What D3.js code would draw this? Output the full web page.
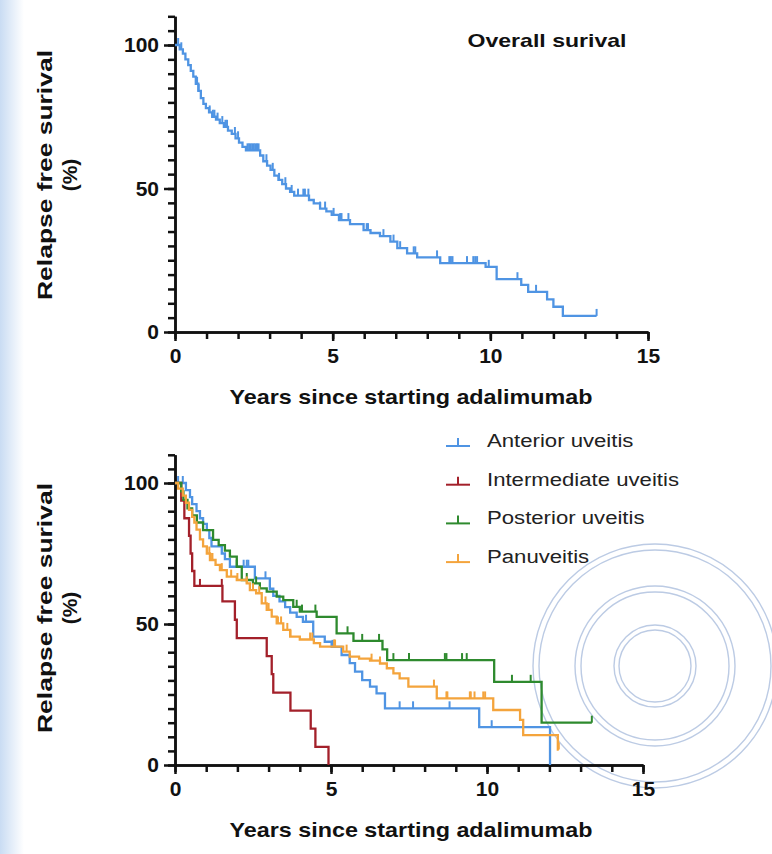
<!DOCTYPE html>
<html>
<head>
<meta charset="utf-8">
<title>Relapse free survival</title>
<script src="https://cdn.jsdelivr.net/npm/d3@7/dist/d3.min.js"></script>
<style>
	body{ margin:0; background:#fff; }
	svg{ display:block; }
	.axis path, .axis line{ stroke:#111; stroke-width:2.5px; }
	.axis text{ font-family:"Liberation Sans", Arial, sans-serif; font-weight:bold; font-size:21px; fill:#111; }
	.title{ font-family:"Liberation Sans", Arial, sans-serif; font-weight:bold; fill:#111; }
	.legend text{ font-family:"Liberation Sans", Arial, sans-serif; font-size:18px; fill:#222; }
</style>
</head>
<body>
<script>
	const width = 772, height = 854;

	// ticks
	const yMajor = [0, 50, 100];
	const yMinor = d3.range(0, 111, 5);
	const xMajor = [0, 5, 10, 15];
	const xMinor = d3.range(0, 16, 1);

	// overall survival: [years, survival % after the drop]
	const overallSteps = [[0.15,98.5],[0.25,97],[0.33,95],[0.42,93],[0.5,91],[0.58,89],[0.66,86.5],[0.74,84],
		[0.82,81.5],[0.9,79.5],[0.98,78],[1.08,76.5],[1.18,75],[1.3,74],[1.42,72.8],[1.55,71.5],[1.68,70.2],
		[1.8,69],[1.92,67.5],[2.03,66],[2.14,64.5],[2.25,63.3],[2.7,61.5],[2.8,59.5],[2.92,58],[3.03,56.5],
		[3.15,54.5],[3.28,53],[3.4,51.5],[3.52,50],[3.65,48.8],[3.78,47.5],[4.25,46],[4.4,44.8],[4.6,43],
		[4.8,42],[4.97,40.8],[5.2,39],[5.55,37.6],[5.98,35.5],[6.2,34.5],[6.5,33.4],[6.83,31.5],[7.05,29.2],
		[7.36,27.4],[7.68,26],[8.41,24],[9.85,22.7],[10.2,18.4],[10.98,16.4],[11.2,14],[11.8,11.4],[12.0,8.8],[12.3,5.6]];
	const overallEnd = 13.37;
	const overallCensor = [0.1,0.2,0.7,0.75,1.1,1.2,1.25,1.35,1.5,1.6,1.65,1.9,2.0,2.3,2.35,2.4,2.45,2.5,2.55,
		2.6,2.65,2.9,3.1,3.3,3.5,3.7,3.9,4.07,4.12,4.23,4.6,4.76,5.03,5.24,5.28,5.5,6.08,6.12,6.61,6.93,7.14,
		7.57,7.62,8.31,8.7,8.75,8.8,9.26,9.46,9.52,9.58,9.95,10.86,11.45,13.37];

	// subgroups
	const groupNames = ["Anterior uveitis", "Intermediate uveitis", "Posterior uveitis", "Panuveitis"];
	const groupColors = ["#4f94e3", "#a3202a", "#2e8a2e", "#f4a43c"];

	const anteriorSteps = [[0.35,97.5],[0.48,95],[0.55,92.5],[0.69,90],[0.8,87.5],[0.9,85.5],[1.02,83.3],[1.1,80.5],
		[1.17,77.5],[1.5,75],[1.6,73],[1.76,70.3],[2.56,66.2],[3.04,62.5],[3.15,60],[3.35,58],[3.53,56],[3.69,54],
		[3.9,52.5],[4.1,50.8],[4.43,45.5],[4.8,43.7],[5.02,41.9],[5.34,39],[5.6,36.1],[5.77,33.1],[6.0,30.1],
		[6.25,27.8],[6.46,25.4],[6.73,20.1],[9.75,13.4],[12.02,0]];
	const anteriorEnd = 12.02;
	const anteriorCensor = [0.1,0.25,2.2,2.3,2.35,2.9,4.2,5.05,5.1,7.2,7.63,8.8,10.15];

	const intermediateSteps = [[0.2,93.8],[0.3,87.5],[0.45,81.3],[0.5,75],[0.55,68.8],[0.62,63.5],[1.52,58],
		[1.92,51.5],[1.98,45],[2.94,38.6],[3.1,32.2],[3.15,25.7],[3.7,19.3],[4.35,12.9],[4.5,6.4],[4.92,0]];
	const intermediateEnd = 4.92;
	const intermediateCensor = [0.8, 1.5];

	const posteriorSteps = [[0.2,97],[0.27,94],[0.4,91],[0.55,88.5],[0.7,86],[0.9,83.3],[1.22,79.8],[1.4,78],
		[1.6,76],[1.76,73.9],[1.98,70.3],[2.14,65.6],[2.5,64.4],[2.72,62.6],[2.94,61.5],[3.26,59.7],[3.47,58.5],
		[3.79,56.1],[4.0,54.4],[4.54,52.5],[5.18,46.7],[5.72,44],[6.65,41],[6.8,37.2],[10.23,29.5],[11.75,15]];
	const posteriorEnd = 13.36;
	const posteriorCensor = [1.98,2.3,2.6,3.9,4.07,4.5,5.53,6.0,6.54,7.0,7.5,8.65,8.7,9.2,9.35,10.8,11.4,13.36];

	const panSteps = [[0.1,98],[0.25,95.5],[0.35,93],[0.45,90.5],[0.55,88],[0.62,86],[0.69,83.5],[0.8,80],
		[0.9,77.5],[1.02,75],[1.12,72.7],[1.3,71],[1.44,69.1],[1.66,66.8],[1.98,65.6],[2.3,64.4],[2.4,62],
		[2.6,60.9],[2.78,57.3],[2.94,55],[3.1,52.6],[3.26,50.2],[3.47,47.9],[3.69,45.5],[4.0,44.5],[4.45,43.2],
		[4.65,42],[5.39,40.2],[5.6,38.4],[5.9,37.7],[6.25,37],[6.57,36],[6.79,34.3],[7.0,32.5],[7.2,30.7],
		[7.48,27.8],[8.39,23.6],[10.2,19.5],[11.06,16],[11.16,10.6],[12.27,5.5]];
	const panEnd = 12.3;
	const panCensor = [1.1,1.15,1.2,1.5,1.8,2.0,2.3,2.5,2.7,2.9,3.0,3.3,3.4,3.6,3.7,4.33,4.4,5.1,5.13,5.5,
		6.3,6.57,8.3,8.7,8.73,9.45,9.48,9.6,9.88,9.94,12.28,12.3];

	const svg = d3.select("body").append("svg")
		.attr("width", width)
		.attr("height", height);

	// pale blue page edge + faint watermark rings
	const grad = svg.append("defs").append("linearGradient").attr("id", "edge");
	grad.append("stop").attr("offset", "0%").attr("stop-color", "#c9dcf3");
	grad.append("stop").attr("offset", "100%").attr("stop-color", "#ffffff");
	svg.append("rect").attr("x", 0).attr("y", 0).attr("width", 24).attr("height", height).attr("fill", "url(#edge)");

	const rings = [36, 41, 74, 80, 116, 122];
	svg.append("g").selectAll("circle")
		.data(rings)
		.enter()
		.append("circle")
		.attr("cx", 655).attr("cy", 666)
		.attr("r", function(d){ return d; })
		.attr("fill", "none")
		.attr("stroke", "#bccbe4")
		.attr("stroke-width", 1.4);

	function levelAt(steps, t){
		let v = 100;
		steps.forEach(function(s){ if(s[0] <= t) v = s[1]; });
		return v;
	}

	function drawPanel(cfg){
		const xScale = d3.scaleLinear().domain([0, 15]).range([175, cfg.xEnd]);
		const yScale = d3.scaleLinear().domain([0, 110]).range([cfg.y0, cfg.y0 - 110 * cfg.ky]);

		const g = svg.append("g");

		// minor ticks, then major ticks with labels
		g.append("g").attr("class", "axis")
			.attr("transform", "translate(175,0)")
			.call(d3.axisLeft(yScale).tickValues(yMinor).tickSize(7).tickSizeOuter(0).tickFormat(""));
		g.append("g").attr("class", "axis")
			.attr("transform", "translate(175,0)")
			.call(d3.axisLeft(yScale).tickValues(yMajor).tickSize(11).tickSizeOuter(0).tickPadding(5));
		g.append("g").attr("class", "axis")
			.attr("transform", "translate(0," + cfg.y0 + ")")
			.call(d3.axisBottom(xScale).tickValues(xMinor).tickSize(7).tickSizeOuter(0).tickFormat(""));
		g.append("g").attr("class", "axis")
			.attr("transform", "translate(0," + cfg.y0 + ")")
			.call(d3.axisBottom(xScale).tickValues(xMajor).tickSize(9).tickSizeOuter(0).tickPadding(7));

		const line = d3.line()
			.x(function(d){ return xScale(d[0]); })
			.y(function(d){ return yScale(d[1]); })
			.curve(d3.curveStepAfter);

		cfg.series.forEach(function(s){
			const pts = [[0, 100]].concat(s.steps);
			pts.push([s.end, pts[pts.length - 1][1]]);
			g.append("path")
				.attr("d", line(pts))
				.attr("fill", "none")
				.attr("stroke", s.color)
				.attr("stroke-width", 2.3);

			g.selectAll(null)
				.data(s.censor)
				.enter()
				.append("line")
				.attr("x1", function(d){ return xScale(d); })
				.attr("x2", function(d){ return xScale(d); })
				.attr("y1", function(d){ return yScale(levelAt(s.steps, d)); })
				.attr("y2", function(d){ return yScale(levelAt(s.steps, d)) - 7; })
				.attr("stroke", s.color)
				.attr("stroke-width", 2);
		});

		// axis titles
		const my = cfg.y0 - 157;
		g.append("text").attr("class", "title")
			.attr("transform", "translate(52," + my + ") rotate(-90)")
			.attr("text-anchor", "middle")
			.attr("font-size", "21px")
			.attr("textLength", 250)
			.attr("lengthAdjust", "spacingAndGlyphs")
			.text("Relapse free surival");
		g.append("text").attr("class", "title")
			.attr("transform", "translate(77," + my + ") rotate(-90)")
			.attr("text-anchor", "middle")
			.attr("font-size", "21px")
			.text("(%)");
		g.append("text").attr("class", "title")
			.attr("x", 411).attr("y", cfg.y0 + 72)
			.attr("text-anchor", "middle")
			.attr("font-size", "21px")
			.attr("textLength", 363)
			.attr("lengthAdjust", "spacingAndGlyphs")
			.text("Years since starting adalimumab");
		return g;
	}

	const topPanel = drawPanel({
		xEnd: 648, y0: 332, ky: 2.87,
		series: [{ steps: overallSteps, end: overallEnd, censor: overallCensor, color: "#4f94e3" }]
	});
	topPanel.append("text").attr("class", "title")
		.attr("x", 547).attr("y", 47)
		.attr("text-anchor", "middle")
		.attr("font-size", "19px")
		.attr("textLength", 159)
		.attr("lengthAdjust", "spacingAndGlyphs")
		.text("Overall surival");

	drawPanel({
		xEnd: 643, y0: 765, ky: 2.82,
		series: [
			{ steps: anteriorSteps, end: anteriorEnd, censor: anteriorCensor, color: groupColors[0] },
			{ steps: intermediateSteps, end: intermediateEnd, censor: intermediateCensor, color: groupColors[1] },
			{ steps: posteriorSteps, end: posteriorEnd, censor: posteriorCensor, color: groupColors[2] },
			{ steps: panSteps, end: panEnd, censor: panCensor, color: groupColors[3] }
		]
	});

	// legend
	const legend = svg.append("g").attr("class", "legend");
	const rows = legend.selectAll("g")
		.data(groupNames)
		.enter()
		.append("g")
		.attr("transform", function(d, i){ return "translate(446," + (446 + i * 38.7) + ")"; });
	rows.append("line")
		.attr("x1", 0).attr("x2", 24).attr("y1", 0).attr("y2", 0)
		.attr("stroke", function(d, i){ return groupColors[i]; })
		.attr("stroke-width", 2);
	rows.append("line")
		.attr("x1", 12).attr("x2", 12).attr("y1", 0).attr("y2", -8)
		.attr("stroke", function(d, i){ return groupColors[i]; })
		.attr("stroke-width", 2);
	// the source text is a little wide, so stretch glyphs by the same factor
	rows.append("text")
		.attr("x", 41).attr("y", 1)
		.text(function(d){ return d; })
		.each(function(){
			const w = this.getComputedTextLength();
			d3.select(this).attr("textLength", w * 1.23).attr("lengthAdjust", "spacingAndGlyphs");
		});
</script>
</body>
</html>
